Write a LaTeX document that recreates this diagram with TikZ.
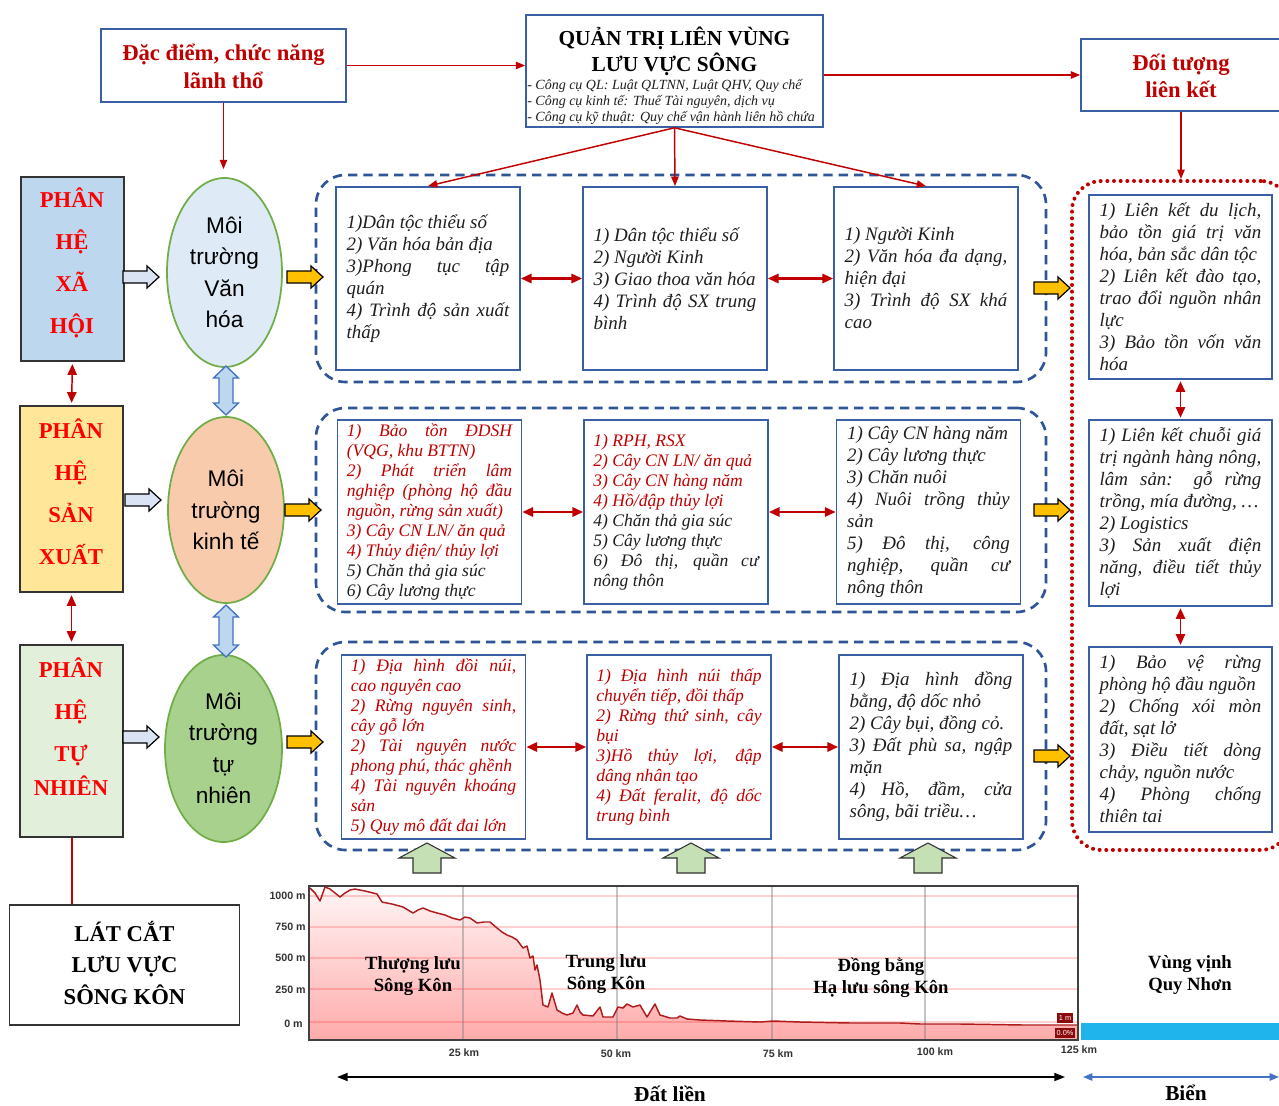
\documentclass[tikz,border=0pt]{standalone}
\usepackage{fontspec}
\setmainfont{Liberation Serif}
\newfontfamily\arialf{Liberation Sans}
\usetikzlibrary{shapes.geometric,arrows.meta,calc}
\hyphenpenalty=10000
\exhyphenpenalty=10000
\tolerance=9999
\definecolor{gblue}{HTML}{2F5597}
\definecolor{ibox}{HTML}{3A5FA5}
\definecolor{dred}{HTML}{C00000}
\definecolor{bred}{HTML}{FF0000}
\definecolor{tblack}{HTML}{1E1E1E}
\definecolor{egreen}{HTML}{70AD47}
\definecolor{lblue}{HTML}{BDD7EE}
\definecolor{lyellow}{HTML}{FFE699}
\definecolor{lgreen}{HTML}{E2EFDA}
\definecolor{eblue}{HTML}{DEEBF7}
\definecolor{eorange}{HTML}{F8CBAD}
\definecolor{egreenf}{HTML}{A9D18E}
\definecolor{arrY}{HTML}{FFC000}
\definecolor{arrB}{HTML}{DAE3F3}
\definecolor{arrV}{HTML}{BDD7EE}
\definecolor{arrVd}{HTML}{4472C4}
\definecolor{arrG}{HTML}{C5E0B4}
\definecolor{sea}{HTML}{1FB5EC}
\definecolor{curvec}{HTML}{B01C1C}
\definecolor{tagred}{HTML}{8B0A0A}
\newcommand\bfont{\fontsize{14.2}{16.5}\selectfont\itshape}
\newcommand\rfont{\fontsize{13.2}{15}\selectfont\itshape}
\newcommand\lb{\linebreak}
\begin{document}
\begin{tikzpicture}[x=0.75pt,y=-0.75pt,
  every node/.style={inner sep=0pt},
  itembox/.style={draw=ibox, line width=1.4pt, fill=white, inner xsep=8pt, inner ysep=1pt,
    text width=122pt, minimum height=#1, align=justify, text=tblack, font=\bfont},
  redbox/.style={itembox=#1, text=dred, font=\rfont, inner xsep=7pt, text width=124pt},
  rbox/.style={itembox=#1, inner xsep=8pt, text width=121.25pt},
  topbox/.style={draw=ibox, line width=1.2pt, fill=white},
  sidebox/.style={draw=black!80, line width=0.8pt},
  sidetext/.style={text=bred, font=\fontsize{17}{31.5}\selectfont\bfseries, align=center},
  envell/.style={ellipse, draw=egreen, line width=1.3pt, font=\arialf\fontsize{17}{23.5}\selectfont, align=center},
  group/.style={draw=gblue, line width=2pt, dash pattern=on 7pt off 4.5pt, rounded corners=22pt, minimum width=547.5pt},
  rline/.style={-{Triangle[length=7pt,width=5.5pt]}, draw=dred, line width=1.1pt},
  dbl/.style={{Triangle[length=8pt,width=7pt]}-{Triangle[length=8pt,width=7pt]}, draw=dred, line width=1.6pt},
  chartlbl/.style={font=\fontsize{14}{16.5}\selectfont\bfseries, align=center, text=black},
  axlbl/.style={font=\arialf\fontsize{8}{9}\selectfont\bfseries, text=black!80},
  rarrow/.pic={\path[pic actions] (0,-6) -- (24,-6) -- (24,-11) -- (36,0) -- (24,11) -- (24,6) -- (0,6) -- cycle;},
  vdarrow/.pic={\path[pic actions] (0,0) -- (12.5,12) -- (7,12) -- (7,#1-12) -- (12.5,#1-12) -- (0,#1) -- (-12.5,#1-12) -- (-7,#1-12) -- (-7,12) -- (-12.5,12) -- cycle;},
  uarrow/.pic={\path[pic actions] (0,0) -- (28,15) -- (14,15) -- (14,30) -- (-14,30) -- (-14,15) -- (-28,15) -- cycle;}
]
\useasboundingbox (0,0) rectangle (1279,1106);
\fill[white] (0,0) rectangle (1279,1106);

% ---------- top row ----------
\node[topbox, minimum width=183.75pt, minimum height=54.75pt] (DD) at (223.5,65.5) {};
\node[text=dred, font=\fontsize{17}{21}\selectfont\bfseries, align=center] (DDt) at (223.5,66) {Đặc điểm, chức năng\\lãnh thổ};
\node[topbox, minimum width=222.75pt, minimum height=84pt] (T) at (674.5,71) {};
\node[font=\fontsize{16}{19.5}\selectfont\bfseries, align=center] (Tt) at (674.5,51) {QUẢN TRỊ LIÊN VÙNG\\LƯU VỰC SÔNG};
\node[anchor=west, font=\fontsize{10.5}{12}\selectfont\itshape, align=left, text=tblack] (Tl) at (527,102) {- Công cụ QL: Luật QLTNN, Luật QHV, Quy chế\\- Công cụ kinh tế: Thuế Tài nguyên, dịch vụ\\- Công cụ kỹ thuật: Quy chế vận hành liên hồ chứa};
\node[topbox, minimum width=153.75pt, minimum height=54pt] (F) at (1183.5,75) {};
\node[text=dred, font=\fontsize{17}{20.5}\selectfont\bfseries, align=center] (Ft) at (1181,76) {Đối tượng\\liên kết};

% ---------- left side ----------
\node[sidebox, fill=lblue, minimum width=77.25pt, minimum height=138pt] (L1) at (72.5,269) {};
\node[sidetext] (L1t) at (72,263) {PHÂN\\HỆ\\XÃ\\HỘI};
\node[sidebox, fill=lyellow, minimum width=77.25pt, minimum height=139.5pt] (L2) at (71.5,499) {};
\node[sidetext] (L2t) at (71,492) {PHÂN\\HỆ\\SẢN\\XUẤT};
\node[sidebox, fill=lgreen, minimum width=77.25pt, minimum height=144pt] (L3) at (71.5,741) {};
\node[sidetext] (L3t) at (71,727) {PHÂN\\HỆ\\TỰ\\[-6pt]NHIÊN};
\node[sidebox, fill=white, minimum width=172.5pt, minimum height=90pt] (LC) at (124.5,965) {};
\node[font=\fontsize{17}{23.6}\selectfont\bfseries, align=center] (LCt) at (124.5,963) {LÁT CẮT\\LƯU VỰC\\SÔNG KÔN};

% ellipses
\node[envell, fill=eblue, minimum width=86.25pt, minimum height=141.75pt] (E1) at (224.5,272.5) {Môi\\trường\\Văn\\hóa};
\node[envell, fill=eorange, minimum width=87pt, minimum height=139.5pt] (E2) at (226,510) {Môi\\trường\\kinh tế};
\node[envell, fill=egreenf, minimum width=87.75pt, minimum height=140.25pt] (E3) at (223.5,748.5) {Môi\\trường\\tự\\nhiên};

% ---------- dashed groups ----------
\node[group, minimum height=155.25pt] (G1) at (681,278.5) {};
\node[group, minimum height=153pt] (G2) at (681,510) {};
\node[group, minimum height=156pt] (G3) at (681,746) {};
\node[draw=dred, line width=3pt, dash pattern=on 0pt off 5pt, line cap=round, rounded corners=22pt,
      minimum width=163.5pt, minimum height=501.75pt] (R) at (1181,515.5) {};

% ---------- item boxes ----------
\node[itembox=137.25pt] (A1) at (428,278.5) {1)Dân tộc thiểu số\\2) Văn hóa bản địa\\3)Phong tục tập\lb quán\\4) Trình độ sản xuất\lb thấp};
\node[itembox=137.25pt] (A2) at (675,278.5) {1) Dân tộc thiểu số\\2) Người Kinh\\3) Giao thoa văn hóa\\4) Trình độ SX trung\lb bình};
\node[itembox=137.25pt] (A3) at (926,278.5) {1) Người Kinh\\2) Văn hóa đa dạng,\lb hiện đại\\3) Trình độ SX khá\lb cao};

\node[redbox=138pt] (B1) at (429.5,512) {1) Bảo tồn ĐDSH\lb (VQG, khu BTTN)\\2) Phát triển lâm\lb nghiệp (phòng hộ đầu\lb nguồn, rừng sản xuất)\\3) Cây CN LN/ ăn quả\\4) Thủy điện/ thủy lợi\\\color{tblack}5) Chăn thả gia súc\\6) Cây lương thực};
\node[redbox=138pt] (B2) at (676,512) {1) RPH, RSX\\2) Cây CN LN/ ăn quả\\3) Cây CN hàng năm\\4) Hồ/đập thủy lợi\\\color{tblack}4) Chăn thả gia súc\\5) Cây lương thực\\6) Đô thị, quần cư\lb nông thôn};
\node[itembox=138pt] (B3) at (928.5,512) {1) Cây CN hàng năm\\2) Cây lương thực\\3) Chăn nuôi\\4) Nuôi trồng thủy\lb sản\\5) Đô thị, công\lb nghiệp, quần cư\lb nông thôn};

\node[redbox=138pt] (C1) at (433.5,747) {1) Địa hình đồi núi,\lb cao nguyên cao\\2) Rừng nguyên sinh,\lb cây gỗ lớn\\2) Tài nguyên nước\lb phong phú, thác ghềnh\\4) Tài nguyên khoáng\lb sản\\5) Quy mô đất đai lớn};
\node[redbox=138pt] (C2) at (679,747) {1) Địa hình núi thấp\lb chuyển tiếp, đồi thấp\\2) Rừng thứ sinh, cây\lb bụi\\3)Hồ thủy lợi, đập\lb dâng nhân tạo\\4) Đất feralit, độ dốc\lb trung bình};
\node[itembox=138pt] (C3) at (931,747) {1) Địa hình đồng\lb bằng, độ dốc nhỏ\\2) Cây bụi, đồng cỏ.\\3) Đất phù sa, ngập\lb mặn\\4) Hồ, đầm, cửa\lb sông, bãi triều…};

\node[rbox=138pt] (D1) at (1180.5,287) {1) Liên kết du lịch,\lb bảo tồn giá trị văn\lb hóa, bản sắc dân tộc\\2) Liên kết đào tạo,\lb trao đổi nguồn nhân\lb lực\\3) Bảo tồn vốn văn\lb hóa};
\node[rbox=139.5pt] (D2) at (1180.5,513) {1) Liên kết chuỗi giá\lb trị ngành hàng nông,\lb lâm sản: gỗ rừng\lb trồng, mía đường, …\\2) Logistics\\3) Sản xuất điện\lb năng, điều tiết thủy\lb lợi};
\node[rbox=138.75pt] (D3) at (1180.5,739.5) {1) Bảo vệ rừng\lb phòng hộ đầu nguồn\\2) Chống xói mòn\lb đất, sạt lở\\3) Điều tiết dòng\lb chảy, nguồn nước\\4) Phòng chống\lb thiên tai};

% ---------- connectors ----------
\draw[rline] (DD.east) -- (DD.east -| T.west);
\draw[rline] (F.west -| T.east) -- (F.west);
\draw[rline, shorten >=6pt] (DD.south) -- (DD.south |- E1.north);
\draw[rline] (F.south -| Ft) -- (Ft |- R.north);
\draw[rline] (T.south) -- (A1.north);
\draw[rline] (T.south) -- (A2.north);
\draw[rline] (T.south) -- (A3.north);
\draw[dbl] (A1.east) -- (A2.west);
\draw[dbl] (A2.east) -- (A3.west);
\draw[dbl] (B1.east) -- (B2.west);
\draw[dbl] (B2.east) -- (B3.west);
\draw[dbl] (C1.east) -- (C2.west);
\draw[dbl] (C2.east) -- (C3.west);
\draw[dbl, line width=1.3pt, shorten <=1pt, shorten >=1pt] (D1.south) -- (D2.north);
\draw[dbl, line width=1.3pt, shorten <=1pt, shorten >=1pt] (D2.south) -- (D3.north);
\draw[dbl, line width=1.1pt, shorten <=2pt, shorten >=2pt] (L1.south) -- (L2.north);
\draw[dbl, line width=1.1pt, shorten <=2pt, shorten >=2pt] (L2.south) -- (L3.north);
\draw[draw=dred, line width=1.5pt] (L3.south) -- (L3.south |- LC.north);

% block arrows
\pic[draw=black, fill=arrB, line width=0.9pt] at (123,277) {rarrow};
\pic[draw=black, fill=arrB, line width=0.9pt] at (125,500) {rarrow};
\pic[draw=black, fill=arrB, line width=0.9pt] at (123,737) {rarrow};
\pic[draw=black, fill=arrY, line width=0.9pt] at (287,277) {rarrow};
\pic[draw=black, fill=arrY, line width=0.9pt] at (285,510) {rarrow};
\pic[draw=black, fill=arrY, line width=0.9pt] at (287,742) {rarrow};
\pic[draw=black, fill=arrY, line width=0.9pt] at (1034,288) {rarrow};
\pic[draw=black, fill=arrY, line width=0.9pt] at (1034,510) {rarrow};
\pic[draw=black, fill=arrY, line width=0.9pt] at (1034,756) {rarrow};
\pic[draw=arrVd, fill=arrV, line width=1pt] at (226,366) {vdarrow=49};
\pic[draw=arrVd, fill=arrV, line width=1pt] at (226,605) {vdarrow=52};
\pic[draw=black!80, fill=arrG, line width=0.8pt] at (427,843) {uarrow};
\pic[draw=black!80, fill=arrG, line width=0.8pt] at (691,843) {uarrow};
\pic[draw=black!80, fill=arrG, line width=0.8pt] at (928,843) {uarrow};

% ---------- chart ----------
\fill[top color=red!4, bottom color=red!33] (310,1040) -- (310,888) -- (315,893) -- (320,901) -- (325,887) -- (330,889) -- (335,893) -- (340,897) -- (345,893) -- (350,890) -- (355,889) -- (365,891) -- (377,894) -- (382,902) -- (392,904) -- (403,907) -- (408,910) -- (413,913) -- (418,910) -- (423,908) -- (430,911) -- (437,913) -- (445,915) -- (452,918) -- (460,920) -- (465,917) -- (470,918) -- (477,923) -- (484,922) -- (490,922) -- (497,928) -- (502,932) -- (507,935) -- (512,937) -- (517,940) -- (523,948) -- (527,946) -- (530,958) -- (533,956) -- (535,970) -- (537,965) -- (540,980) -- (543,1005) -- (548,1007) -- (552,993) -- (557,1010) -- (562,1013) -- (567,1015) -- (573,1013) -- (577,1005) -- (580,1012) -- (583,1015) -- (593,1016) -- (600,1007) -- (603,1017) -- (613,1017) -- (618,1007) -- (623,1008) -- (627,1004) -- (633,1007) -- (640,1005) -- (647,1017) -- (655,1004) -- (660,1015) -- (670,1018) -- (677,1018) -- (680,1016) -- (687,1019) -- (700,1020) -- (727,1021) -- (760,1022) -- (773,1021) -- (800,1022) -- (850,1023) -- (900,1023) -- (920,1024) -- (960,1024) -- (1023,1025) -- (1050,1025) -- (1078,1025) -- (1078,1040) -- cycle;
\foreach \yy in {896,927,958,989,1022} \draw[red, opacity=0.18, line width=1pt] (310,\yy) -- (1078,\yy);
\foreach \xx in {463,617,772,925} \draw[gray, opacity=0.45, line width=0.8pt] (\xx,887) -- (\xx,1040);
\draw[curvec, line width=1.1pt, line join=round] (310,888) -- (315,893) -- (320,901) -- (325,887) -- (330,889) -- (335,893) -- (340,897) -- (345,893) -- (350,890) -- (355,889) -- (365,891) -- (377,894) -- (382,902) -- (392,904) -- (403,907) -- (408,910) -- (413,913) -- (418,910) -- (423,908) -- (430,911) -- (437,913) -- (445,915) -- (452,918) -- (460,920) -- (465,917) -- (470,918) -- (477,923) -- (484,922) -- (490,922) -- (497,928) -- (502,932) -- (507,935) -- (512,937) -- (517,940) -- (523,948) -- (527,946) -- (530,958) -- (533,956) -- (535,970) -- (537,965) -- (540,980) -- (543,1005) -- (548,1007) -- (552,993) -- (557,1010) -- (562,1013) -- (567,1015) -- (573,1013) -- (577,1005) -- (580,1012) -- (583,1015) -- (593,1016) -- (600,1007) -- (603,1017) -- (613,1017) -- (618,1007) -- (623,1008) -- (627,1004) -- (633,1007) -- (640,1005) -- (647,1017) -- (655,1004) -- (660,1015) -- (670,1018) -- (677,1018) -- (680,1016) -- (687,1019) -- (700,1020) -- (727,1021) -- (760,1022) -- (773,1021) -- (800,1022) -- (850,1023) -- (900,1023) -- (920,1024) -- (960,1024) -- (1023,1025) -- (1050,1025) -- (1078,1025);
\draw[black!75, line width=1.3pt] (309,886) rectangle (1078,1040);
\fill[sea] (1081,1023) rectangle (1285,1040);
\node[fill=tagred, text=white, font=\arialf\fontsize{5.5}{6}\selectfont, inner xsep=1.5pt, inner ysep=1.5pt] (tag1) at (1065,1018) {1 m};
\node[fill=tagred, text=white, font=\arialf\fontsize{5.5}{6}\selectfont, inner xsep=1.5pt, inner ysep=1.5pt] (tag2) at (1065,1033) {0.0\%};

\node[axlbl, anchor=east] (y1) at (306,896) {1000 m};
\node[axlbl, anchor=east] (y2) at (306,927) {750 m};
\node[axlbl, anchor=east] (y3) at (306,958) {500 m};
\node[axlbl, anchor=east] (y4) at (306,990) {250 m};
\node[axlbl, anchor=east] (y5) at (303,1024) {0 m};
\node[axlbl] (x1) at (464,1053) {25 km};
\node[axlbl] (x2) at (616,1054) {50 km};
\node[axlbl] (x3) at (778,1054) {75 km};
\node[axlbl] (x4) at (935,1052) {100 km};
\node[axlbl] (x5) at (1079,1050) {125 km};

\node[chartlbl] (c1) at (413,976) {Thượng lưu\\Sông Kôn};
\node[chartlbl] (c2) at (606,974) {Trung lưu\\Sông Kôn};
\node[chartlbl] (c3) at (881,978) {Đồng bằng\\Hạ lưu sông Kôn};
\node[chartlbl] (c4) at (1190,975) {Vùng vịnh\\Quy Nhơn};

\coordinate (bl) at (337,1077);
\coordinate (br) at (1065,1077);
\coordinate (sl) at (1083,1077);
\coordinate (sr) at (1279,1077);
\draw[{Triangle[length=8pt,width=6pt]}-{Triangle[length=8pt,width=6pt]}, line width=1.3pt, black] (bl) -- (br);
\draw[{Triangle[length=7pt,width=5.5pt]}-{Triangle[length=7pt,width=5.5pt]}, line width=1.2pt, arrVd] (sl) -- (sr);
\node[font=\fontsize{16}{18}\selectfont\bfseries] (dl) at (670,1094) {Đất liền};
\node[font=\fontsize{16}{18}\selectfont\bfseries] (bi) at (1186,1093) {Biển};
\end{tikzpicture}
\end{document}
